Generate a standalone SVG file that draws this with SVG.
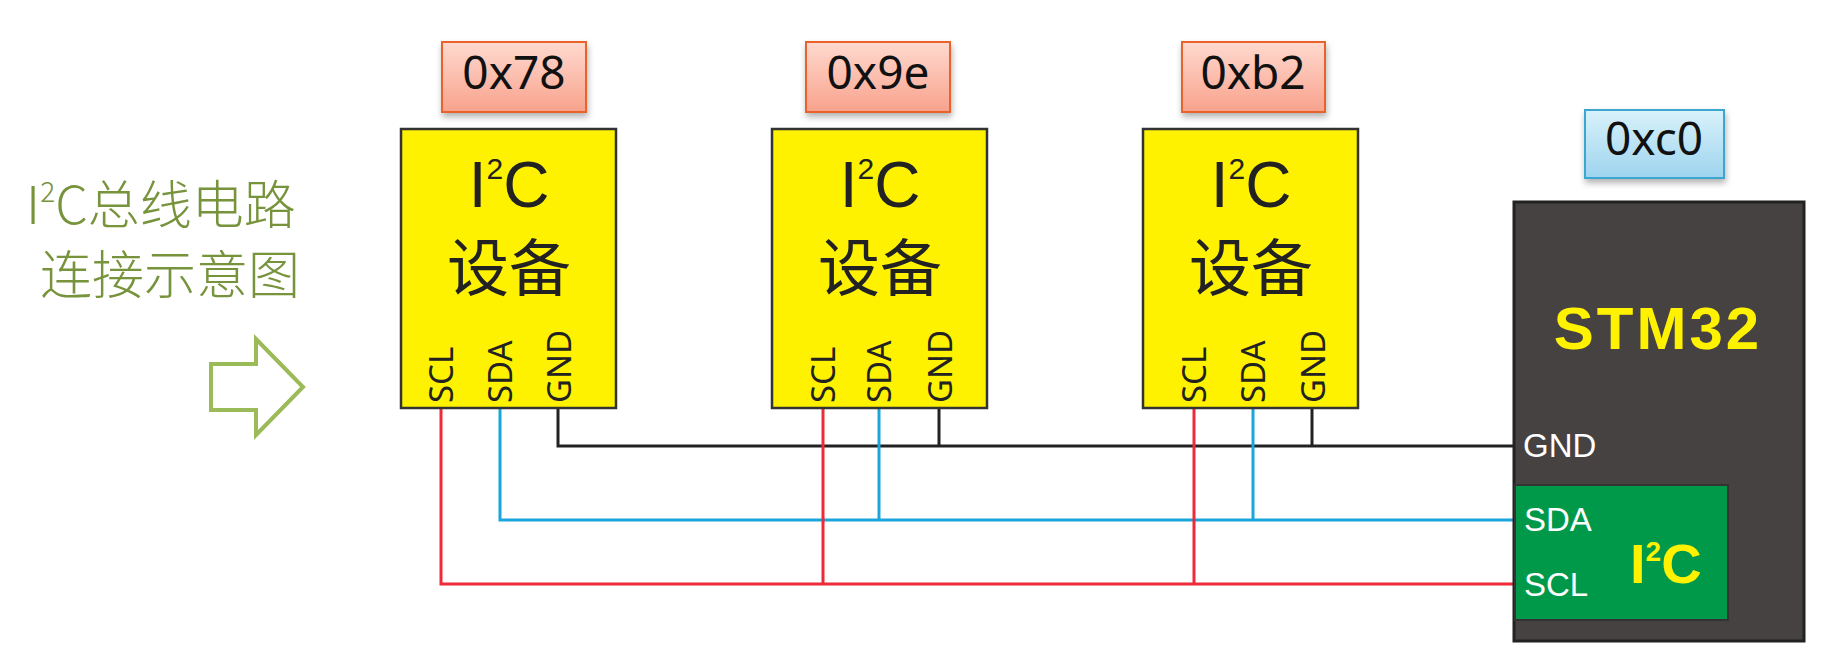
<svg xmlns="http://www.w3.org/2000/svg" width="1829" height="665" viewBox="0 0 1829 665">
<defs>
<linearGradient id="gr" x1="0" y1="0" x2="0" y2="1"><stop offset="0" stop-color="#ffd9cf"/><stop offset="1" stop-color="#f8a28c"/></linearGradient>
<linearGradient id="gb" x1="0" y1="0" x2="0" y2="1"><stop offset="0" stop-color="#d9f2fb"/><stop offset="1" stop-color="#9ed4ee"/></linearGradient>
<filter id="sh" x="-10%" y="-10%" width="130%" height="140%"><feDropShadow dx="1" dy="4" stdDeviation="3" flood-color="#000" flood-opacity="0.3"/></filter>
</defs>
<style>
.lab{stroke:#e8622a;stroke-width:2;fill:url(#gr);filter:url(#sh)}
.hex{font-family:"Noto Sans","DejaVu Sans",sans-serif;font-size:46px;fill:#111;text-anchor:middle}
.dev{fill:#fff200;stroke:#333;stroke-width:2.5}
.t1{font-family:"Liberation Sans",Arial,sans-serif;font-size:64px;fill:#222;text-anchor:middle}
.t2{font-family:"Noto Sans CJK SC",sans-serif;font-size:62px;fill:#222;text-anchor:middle;font-weight:400}
.pin{font-family:"Noto Sans","DejaVu Sans",sans-serif;font-size:33px;fill:#222}
.w{fill:none;stroke-width:3}
.wt{font-family:"Liberation Sans",Arial,sans-serif;font-size:33px;fill:#fff}
</style>
<g id="title" fill="#77933c" font-family="Noto Sans CJK SC,sans-serif" font-size="52" font-weight="300">
<text x="26" y="224">I<tspan font-size="28" dy="-22">2</tspan><tspan dy="22">C总线电路</tspan></text>
<text x="40" y="294">连接示意图</text>
</g>
<polygon id="arrow" points="211,364 256,364 256,339 303,387 256,435 256,410 211,410" fill="none" stroke="#9bbb59" stroke-width="4"/>
<g id="wires">
<polyline class="w" stroke="#222" points="558,408 558,446 1514,446"/>
<line class="w" stroke="#222" x1="939" y1="408" x2="939" y2="446"/>
<line class="w" stroke="#222" x1="1312" y1="408" x2="1312" y2="446"/>
<polyline class="w" stroke="#1aa6dc" points="500,408 500,520 1514,520"/>
<line class="w" stroke="#1aa6dc" x1="879" y1="408" x2="879" y2="520"/>
<line class="w" stroke="#1aa6dc" x1="1253" y1="408" x2="1253" y2="520"/>
<polyline class="w" stroke="#ee2b3b" points="441,408 441,584 1514,584"/>
<line class="w" stroke="#ee2b3b" x1="823" y1="408" x2="823" y2="584"/>
<line class="w" stroke="#ee2b3b" x1="1194" y1="408" x2="1194" y2="584"/>
</g>
<g id="dev1">
<rect class="lab" x="442" y="42" width="144" height="70"/><text class="hex" x="514" y="89">0x78</text>
<rect class="dev" x="401" y="129" width="215" height="279"/>
<text class="t1" x="509" y="207">I<tspan font-size="30" dy="-28">2</tspan><tspan dy="28">C</tspan></text>
<text class="t2" x="509" y="291">设备</text>
<text class="pin" transform="translate(453,403) rotate(-90)">SCL</text>
<text class="pin" transform="translate(512,403) rotate(-90)">SDA</text>
<text class="pin" transform="translate(571,403) rotate(-90)">GND</text>
</g>
<g id="dev2">
<rect class="lab" x="806" y="42" width="144" height="70"/><text class="hex" x="878" y="89">0x9e</text>
<rect class="dev" x="772" y="129" width="215" height="279"/>
<text class="t1" x="880" y="207">I<tspan font-size="30" dy="-28">2</tspan><tspan dy="28">C</tspan></text>
<text class="t2" x="880" y="291">设备</text>
<text class="pin" transform="translate(835,403) rotate(-90)">SCL</text>
<text class="pin" transform="translate(891,403) rotate(-90)">SDA</text>
<text class="pin" transform="translate(952,403) rotate(-90)">GND</text>
</g>
<g id="dev3">
<rect class="lab" x="1182" y="42" width="143" height="70"/><text class="hex" x="1253" y="89">0xb2</text>
<rect class="dev" x="1143" y="129" width="215" height="279"/>
<text class="t1" x="1251" y="207">I<tspan font-size="30" dy="-28">2</tspan><tspan dy="28">C</tspan></text>
<text class="t2" x="1251" y="291">设备</text>
<text class="pin" transform="translate(1206,403) rotate(-90)">SCL</text>
<text class="pin" transform="translate(1265,403) rotate(-90)">SDA</text>
<text class="pin" transform="translate(1325,403) rotate(-90)">GND</text>
</g>
<g id="stm32">
<rect x="1585" y="110" width="139" height="68" fill="url(#gb)" stroke="#3aa6cf" stroke-width="2" filter="url(#sh)"/>
<text class="hex" x="1654" y="155">0xc0</text>
<rect x="1514" y="202" width="290" height="439" fill="#464241" stroke="#222" stroke-width="3"/>
<text x="1658" y="349" font-family="Liberation Sans,Arial,sans-serif" font-weight="bold" font-size="60" fill="#fff200" text-anchor="middle" letter-spacing="3">STM32</text>
<text class="wt" x="1523" y="457">GND</text>
<rect x="1515" y="485" width="213" height="135" fill="#00994a" stroke="#333" stroke-width="2"/>
<text class="wt" x="1524" y="531">SDA</text>
<text class="wt" x="1524" y="596">SCL</text>
<text x="1630" y="583" font-family="Liberation Sans,Arial,sans-serif" font-weight="bold" font-size="56" fill="#fff200">I<tspan font-size="28" dy="-22">2</tspan><tspan dy="22">C</tspan></text>
</g>
</svg>
